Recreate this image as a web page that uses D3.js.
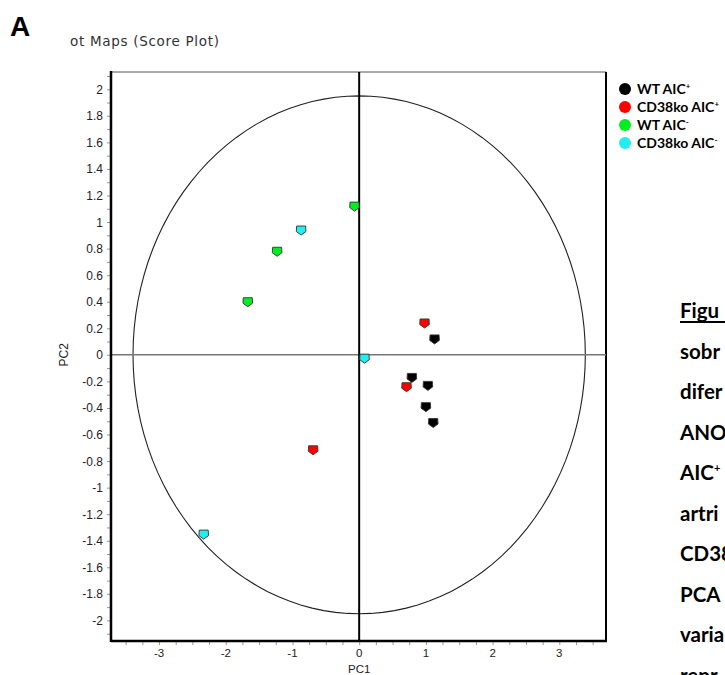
<!DOCTYPE html>
<html><head><meta charset="utf-8">
<script src="https://cdn.jsdelivr.net/npm/d3@7"></script>
<style>html,body{margin:0;padding:0;background:#fff;overflow:hidden}</style>
</head><body>
<script>
// ---- data ----
const groupNames = ["WT AIC", "CD38ko AIC", "WT AIC", "CD38ko AIC"];
const groupSup = ["+", "+", "-", "-"];
const groupColors = ["#000000", "#ff0000", "#00ee22", "#22eef0"];
const wtPosX = [1.13, 0.79, 1.03, 1.00, 1.11];
const wtPosY = [0.12, -0.17, -0.23, -0.39, -0.51];
const koPosX = [0.98, 0.71, -0.69];
const koPosY = [0.24, -0.24, -0.715];
const wtNegX = [-0.07, -1.23, -1.67];
const wtNegY = [1.12, 0.78, 0.40];
const koNegX = [-0.87, 0.08, -2.33];
const koNegY = [0.94, -0.025, -1.35];
const xTickLabels = [-3, -2, -1, 0, 1, 2, 3];
const yTickLabels = [-2, -1.8, -1.6, -1.4, -1.2, -1, -0.8, -0.6, -0.4, -0.2, 0, 0.2, 0.4, 0.6, 0.8, 1, 1.2, 1.4, 1.6, 1.8, 2];
const ellipseRadii = [3.39, 1.95];
const sideText = ["Figu", "sobr", "difer", "ANO", "AIC", "artri", "CD38", "PCA", "varia", "repr"];

const W = 725, H = 675;
const svg = d3.select("body").append("svg").attr("width", W).attr("height", H)
  .style("font-family", "'Liberation Sans', Arial, sans-serif");

const L = 111, R = 606, T = 72, B = 641;
const x = d3.scaleLinear().domain([-3.72, 3.70]).range([L, R]);
const y = d3.scaleLinear().domain([-2.155, 2.13]).range([B, T]);

// panel label
svg.append("text").attr("x", 10).attr("y", 36).text("A")
  .style("font-size", "28px").style("font-weight", "bold").attr("fill", "#000");
// title
svg.append("text").attr("x", 70).attr("y", 46).text("ot Maps (Score Plot)")
  .style("font-family", "'DejaVu Sans', Verdana, sans-serif").style("font-size", "13.5px")
  .style("letter-spacing", "0.7px").attr("fill", "#333");

// frame top/right
svg.append("line").attr("x1", L).attr("x2", R).attr("y1", T).attr("y2", T).attr("stroke", "#555").attr("stroke-width", 1);
svg.append("line").attr("x1", R).attr("x2", R).attr("y1", T).attr("y2", B).attr("stroke", "#000").attr("stroke-width", 2);

// ellipse
const ell = d3.range(0, 361, 3).map(a => [ellipseRadii[0] * Math.cos(a * Math.PI / 180), ellipseRadii[1] * Math.sin(a * Math.PI / 180)]);
svg.append("path").attr("d", d3.line().x(d => x(d[0])).y(d => y(d[1]))(ell))
  .attr("fill", "none").attr("stroke", "#222").attr("stroke-width", 1.1);

// zero lines
svg.append("line").attr("x1", L).attr("x2", R).attr("y1", y(0)).attr("y2", y(0)).attr("stroke", "#777").attr("stroke-width", 1.5);
svg.append("line").attr("x1", x(0)).attr("x2", x(0)).attr("y1", T).attr("y2", B).attr("stroke", "#000").attr("stroke-width", 2);

// x axis
const xMinor = d3.range(-3.5, 3.51, 0.25);
const xa = svg.append("g").attr("transform", `translate(0,${B})`)
  .call(d3.axisBottom(x).tickValues(xMinor).tickSize(4).tickFormat(""));
xa.select(".domain").remove();
xa.selectAll(".tick line").attr("stroke", "#999");
svg.append("g").selectAll("text").data(xTickLabels).join("text")
  .attr("x", d => x(d)).attr("y", B + 16).attr("text-anchor", "middle")
  .text(d => String(d)).style("font-size", "11.5px").attr("fill", "#222");
svg.append("line").attr("x1", L).attr("x2", R + 1).attr("y1", B).attr("y2", B).attr("stroke", "#000").attr("stroke-width", 2.5);
svg.append("text").attr("x", x(0)).attr("y", 673).attr("text-anchor", "middle").text("PC1")
  .style("font-size", "11.5px").attr("fill", "#222");

// y axis
const yMinor = d3.range(-21, 22).map(v => v / 10);
const ya = svg.append("g").attr("transform", `translate(${L},0)`)
  .call(d3.axisLeft(y).tickValues(yMinor).tickSize(4).tickFormat(""));
ya.select(".domain").remove();
ya.selectAll(".tick line").attr("stroke", "#999");
svg.append("g").selectAll("text").data(yTickLabels).join("text")
  .attr("x", 103).attr("y", d => y(d) + 4.5).attr("text-anchor", "end")
  .text(d => String(d)).style("font-size", "12px").attr("fill", "#222");
svg.append("line").attr("x1", L).attr("x2", L).attr("y1", T - 1).attr("y2", B + 1).attr("stroke", "#000").attr("stroke-width", 2.5);
svg.append("text").attr("transform", `translate(68,${y(0)}) rotate(-90)`).attr("text-anchor", "middle")
  .text("PC2").style("font-size", "12px").attr("fill", "#222");

// points
const series = [[wtPosX, wtPosY], [koPosX, koPosY], [wtNegX, wtNegY], [koNegX, koNegY]];
const marker = "M-4.5,-4L4.5,-4L4.8,1.5L0,5L-4.8,1.5Z";
series.forEach((s, i) => {
  svg.append("g").selectAll("path").data(s[0].map((v, j) => [v, s[1][j]])).join("path")
    .attr("d", marker)
    .attr("transform", d => `translate(${x(d[0])},${y(d[1])})`)
    .attr("fill", groupColors[i]).attr("stroke", "#333").attr("stroke-width", 0.9);
});

// legend
const lg = svg.append("g");
groupNames.forEach((n, i) => {
  const yy = 89 + i * 18;
  lg.append("circle").attr("cx", 625).attr("cy", yy).attr("r", 6).attr("fill", groupColors[i]);
  const t = lg.append("text").attr("x", 637).attr("y", yy + 5)
    .style("font-family", "Lato, 'Open Sans', sans-serif").style("font-size", "14px")
    .style("font-weight", "bold").attr("fill", "#000");
  t.append("tspan").text(n);
  t.append("tspan").text(groupSup[i]).attr("dy", -5.5).style("font-size", "8px");
});

// side text
const st = svg.append("g").style("font-family", "Lato, 'Open Sans', sans-serif")
  .style("font-size", "20.5px").style("font-weight", "bold");
sideText.forEach((s, i) => {
  const t = st.append("text").attr("x", 680).attr("y", 318 + i * 40.5).attr("fill", "#000");
  t.append("tspan").text(s);
  if (i === 4) t.append("tspan").text("+").attr("dy", -8).style("font-size", "11px");
});
st.append("line").attr("x1", 680).attr("x2", 725).attr("y1", 322).attr("y2", 322).attr("stroke", "#000").attr("stroke-width", 1.8);
</script>
</body></html>
